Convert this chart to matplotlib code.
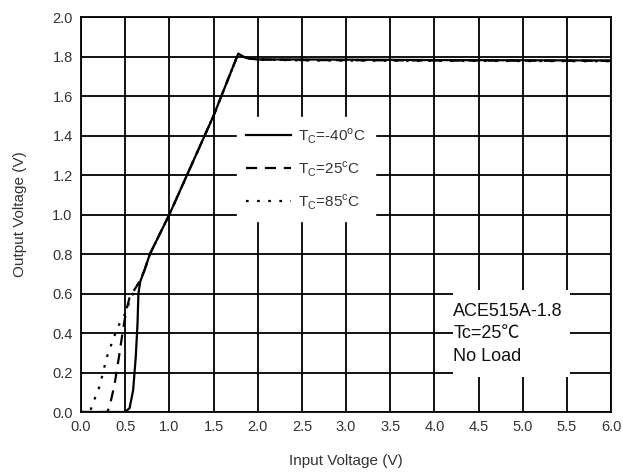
import matplotlib
matplotlib.use("Agg")
import matplotlib.pyplot as plt
from matplotlib.patches import Rectangle

plt.rcParams['font.family'] = ['Liberation Sans', 'DejaVu Sans']

# Output voltage vs input voltage, ACE515A-1.8, no load
vin_m40 = [0.0, 0.50, 0.55, 0.59, 0.62, 0.64, 0.65, 0.67, 0.72, 0.78, 1.00, 1.50,
           1.78, 1.83, 1.90, 2.00, 2.50, 4.00, 6.00]
vout_m40 = [0.0, 0.0, 0.02, 0.11, 0.28, 0.45, 0.60, 0.66, 0.72, 0.80, 1.00, 1.50,
            1.815, 1.80, 1.79, 1.785, 1.785, 1.782, 1.78]

vin_25 = [0.0, 0.30, 0.33, 0.38, 0.43, 0.47, 0.51, 0.55, 0.62, 0.67, 0.72, 0.78,
          1.00, 1.50, 1.78, 1.83, 1.90, 2.00, 2.50, 4.00, 6.00]
vout_25 = [0.0, 0.0, 0.04, 0.14, 0.28, 0.40, 0.51, 0.58, 0.63, 0.665, 0.72, 0.80,
           1.00, 1.50, 1.815, 1.80, 1.79, 1.785, 1.782, 1.78, 1.778]

vin_85 = [0.0, 0.10, 0.14, 0.21, 0.25, 0.29, 0.35, 0.41, 0.49, 0.56, 0.62, 0.67,
          0.72, 0.78, 1.00, 1.50, 1.78, 1.83, 1.90, 2.00, 2.50, 4.00, 6.00]
vout_85 = [0.0, 0.0, 0.05, 0.13, 0.20, 0.275, 0.35, 0.425, 0.49, 0.57, 0.63, 0.665,
           0.72, 0.80, 1.00, 1.50, 1.815, 1.80, 1.79, 1.785, 1.78, 1.778, 1.776]

x_ticks = [0.0, 0.5, 1.0, 1.5, 2.0, 2.5, 3.0, 3.5, 4.0, 4.5, 5.0, 5.5, 6.0]
y_ticks = [0.0, 0.2, 0.4, 0.6, 0.8, 1.0, 1.2, 1.4, 1.6, 1.8, 2.0]

fig = plt.figure(figsize=(6.23, 4.75), dpi=100)
ax = fig.add_axes([0.130, 0.1326, 0.851, 0.8316])

txt_col = '#333333'

ax.plot(vin_m40, vout_m40, color='black', lw=1.6, ls='-', zorder=4,
        label=r'T$_\mathregular{C}$=-40$^\mathregular{o}$C')
ax.plot(vin_25, vout_25, color='black', lw=1.6, ls=(0, (5, 3.5)), zorder=4,
        label=r'T$_\mathregular{C}$=25$^\mathregular{c}$C')
ax.plot(vin_85, vout_85, color='black', lw=1.6, ls=(0, (1.2, 3.8)), zorder=4,
        label=r'T$_\mathregular{C}$=85$^\mathregular{c}$C')

ax.set_xlim(0, 6)
ax.set_ylim(0, 2)
ax.set_xticks(x_ticks)
ax.set_yticks(y_ticks)
ax.set_xticklabels([f'{v:.1f}' for v in x_ticks])
ax.set_yticklabels([f'{v:.1f}' for v in y_ticks])
ax.tick_params(length=0, pad=6, labelsize=10.5, labelcolor=txt_col)
ax.grid(True, color='black', lw=1.3, zorder=1)
ax.set_axisbelow(True)
for s in ax.spines.values():
    s.set_linewidth(1.3)
    s.set_zorder(5)

ax.set_xlabel('Input Voltage (V)', fontsize=11, color=txt_col, labelpad=14)
ax.set_ylabel('Output Voltage (V)', fontsize=11, color=txt_col, labelpad=18)

leg = ax.legend(loc='upper left', bbox_to_anchor=(0.294, 0.747), frameon=True,
                fancybox=False, facecolor='white', edgecolor='white', framealpha=1,
                fontsize=11, handlelength=2.9, handletextpad=0.5,
                labelspacing=0.88, borderpad=0.62, borderaxespad=0)
for t in leg.get_texts():
    t.set_color(txt_col)
leg.set_zorder(6)

ax.add_patch(Rectangle((0.702, 0.089), 0.221, 0.220, transform=ax.transAxes,
                       facecolor='white', edgecolor='none', zorder=2))
ax.text(0.702, 0.276, 'ACE515A-1.8\nTc=25\u2103\nNo Load', transform=ax.transAxes,
        fontsize=13, color='#111111', va='top', ha='left', linespacing=1.42,
        zorder=3, family=['Liberation Sans', 'Noto Sans CJK SC', 'DejaVu Sans'])

fig.savefig('out.png', dpi=100)
